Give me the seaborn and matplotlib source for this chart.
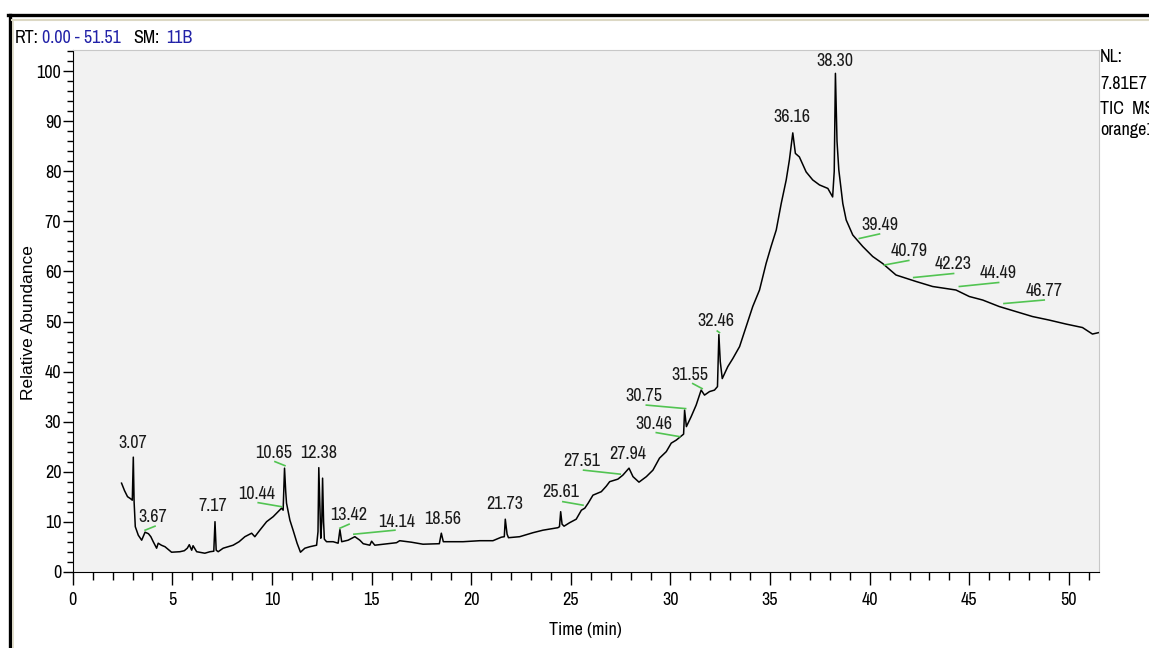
import matplotlib
matplotlib.use("Agg")
import matplotlib.pyplot as plt
from matplotlib.lines import Line2D
from matplotlib.ticker import MultipleLocator
import seaborn as sns
import pandas as pd

# TIC trace (retention time in min, relative abundance in %)
rt_min = [2.45, 2.60, 2.75, 2.90, 2.99, 3.04, 3.08, 3.14, 3.29, 3.46, 3.63, 3.80, 3.92, 4.04,
          4.21, 4.29, 4.45, 4.63, 4.96, 5.38, 5.60, 5.75, 5.85, 5.97, 6.04, 6.22, 6.63, 6.89,
          7.08, 7.14, 7.20, 7.30, 7.55, 8.05, 8.35, 8.64, 8.98, 9.14, 9.39, 9.73, 10.06, 10.31,
          10.48, 10.56, 10.63, 10.69, 10.73, 10.90, 11.06, 11.26, 11.43, 11.65, 11.90, 12.24,
          12.31, 12.35, 12.40, 12.45, 12.50, 12.54, 12.59, 12.63, 12.74, 13.07, 13.32, 13.41,
          13.50, 13.82, 14.16, 14.41, 14.58, 14.91, 15.00, 15.16, 15.58, 16.25, 16.41, 17.00,
          17.58, 18.40, 18.50, 18.60, 19.59, 20.43, 21.09, 21.51, 21.66, 21.71, 21.80, 21.87,
          22.43, 23.10, 23.60, 24.35, 24.43, 24.49, 24.56, 24.66, 24.94, 25.27, 25.53, 25.70,
          25.87, 26.11, 26.53, 26.78, 26.95, 27.36, 27.61, 27.92, 28.12, 28.42, 28.79, 29.12,
          29.45, 29.79, 30.04, 30.29, 30.54, 30.66, 30.71, 30.80, 31.04, 31.29, 31.54, 31.71,
          31.96, 32.21, 32.36, 32.43, 32.50, 32.60, 32.88, 33.13, 33.47, 33.80, 34.13, 34.47,
          34.80, 35.05, 35.31, 35.56, 35.81, 35.97, 36.14, 36.27, 36.47, 36.81, 37.14, 37.48,
          37.90, 38.14, 38.22, 38.28, 38.36, 38.45, 38.65, 38.82, 39.15, 39.65, 40.15, 40.65,
          41.32, 42.33, 43.16, 44.33, 45.00, 45.67, 46.50, 47.34, 48.17, 49.00, 49.85, 50.68,
          51.18, 51.51]
abundance = [17.7, 16.2, 15.0, 14.6, 14.3, 22.9, 14.0, 9.0, 7.3, 6.3, 7.9, 7.6, 7.0, 6.0,
             4.7, 5.7, 5.3, 5.0, 3.9, 4.0, 4.2, 4.7, 5.4, 4.3, 5.2, 4.0, 3.7, 4.0,
             4.1, 10.0, 4.3, 4.0, 4.7, 5.3, 6.0, 7.0, 7.7, 7.0, 8.3, 10.0, 11.0, 12.0,
             12.7, 12.3, 20.7, 16.0, 13.7, 10.3, 8.3, 5.7, 3.9, 4.7, 5.0, 5.3,
             8.0, 20.8, 14.0, 6.7, 10.0, 18.7, 10.0, 6.5, 6.0, 6.0, 5.7, 8.4,
             6.0, 6.3, 7.0, 6.3, 5.6, 5.3, 6.1, 5.3, 5.5, 5.8, 6.2, 5.9,
             5.5, 5.6, 7.7, 6.0, 6.0, 6.2, 6.2, 6.9, 7.0, 10.5, 7.5, 6.8,
             7.0, 7.8, 8.3, 8.8, 9.0, 12.0, 9.5, 9.1, 9.8, 10.5, 12.3, 12.7,
             13.7, 15.3, 16.0, 17.1, 18.0, 18.5, 19.3, 20.7, 19.0, 17.9, 19.0, 20.3,
             22.7, 24.0, 25.7, 26.3, 27.1, 27.5, 32.3, 29.0, 31.0, 33.3, 36.3, 35.3,
             36.0, 36.3, 37.0, 47.4, 42.0, 38.6, 41.0, 42.6, 45.0, 49.0, 53.0, 56.3,
             61.6, 65.0, 68.3, 73.6, 78.3, 82.3, 87.7, 83.6, 82.9, 79.9, 78.3, 77.3,
             76.6, 74.9, 80.0, 99.6, 86.0, 80.3, 73.6, 70.3, 67.3, 65.0, 63.0, 61.6,
             59.3, 58.0, 57.0, 56.3, 55.0, 54.3, 53.0, 52.0, 51.0, 50.3, 49.5, 48.8,
             47.5, 47.8]

# peak labels and where their text sits (t, abundance of text centre)
peak_labels = ["3.07", "3.67", "7.17", "10.44", "10.65", "12.38", "13.42", "14.14", "18.56",
               "21.73", "25.61", "27.51", "27.94", "30.46", "30.75", "31.55", "32.46", "36.16",
               "38.30", "39.49", "40.79", "42.23", "44.49", "46.77"]
label_t = [3.01, 4.03, 7.04, 9.24, 10.06, 12.35, 13.86, 16.27, 18.56, 21.68, 24.49, 25.53,
           27.86, 29.17, 28.67, 30.99, 32.26, 36.09, 38.23, 40.49, 41.96, 44.21, 46.47, 48.73]
label_v = [25.7, 10.9, 13.1, 15.5, 23.7, 23.7, 11.3, 10.0, 10.5, 13.5, 15.9, 22.1, 23.5,
           29.5, 35.1, 39.3, 50.2, 90.9, 102.1, 69.3, 64.0, 61.5, 59.6, 56.2]

# green leader lines: from the peak to the underside of its label
leader_t0 = [3.63, 9.31, 10.15, 13.41, 14.11, 24.60, 25.64, 29.29, 28.79, 31.12, 32.35,
             39.48, 40.74, 42.21, 44.50, 46.74]
leader_t1 = [4.13, 10.48, 10.65, 13.87, 16.17, 25.61, 27.48, 30.46, 30.76, 31.59, 32.46,
             40.49, 41.96, 44.21, 46.47, 48.76]
leader_v0 = [8.3, 13.8, 22.0, 8.7, 7.5, 14.0, 20.3, 27.8, 33.3, 37.6, 48.1, 66.6, 61.3,
             58.8, 57.0, 53.6]
leader_v1 = [9.1, 13.0, 21.2, 9.5, 8.3, 13.3, 19.5, 27.0, 32.6, 36.6, 47.8, 67.5, 62.2,
             59.6, 57.8, 54.3]

trace = pd.DataFrame({"Time (min)": rt_min, "Relative Abundance": abundance})

narrow = ["Archivo Narrow", "Roboto Condensed", "Liberation Sans", "DejaVu Sans"]
plt.rcParams["font.family"] = narrow
fs = 13

fig = plt.figure(figsize=(11.49, 6.48), dpi=100)
fig.patch.set_facecolor("white")
ax = fig.add_axes([0.0633, 0.1177, 0.8932, 0.8051])
ax.set_facecolor("#f2f2f2")

sns.lineplot(data=trace, x="Time (min)", y="Relative Abundance", ax=ax,
             color="black", linewidth=1.1, estimator=None, sort=False)

for t0, t1, v0, v1 in zip(leader_t0, leader_t1, leader_v0, leader_v1):
    ax.plot([t0, t1], [v0, v1], color="#52c452", linewidth=1.2)

for lab, t, v in zip(peak_labels, label_t, label_v):
    ax.text(t, v, lab, ha="center", va="center", fontsize=fs, color="#1a1a1a")

ax.set_xlim(0, 51.51)
ax.set_ylim(0, 104.26)
ax.xaxis.set_major_locator(MultipleLocator(5))
ax.xaxis.set_minor_locator(MultipleLocator(1))
ax.yaxis.set_major_locator(MultipleLocator(10))
ax.yaxis.set_minor_locator(MultipleLocator(2))
ax.tick_params(axis="x", which="major", length=9.4, width=1, pad=5, labelsize=fs, direction="out")
ax.tick_params(axis="x", which="minor", length=5.8, width=1, direction="out")
ax.tick_params(axis="y", which="major", length=7.2, width=1, pad=1, labelsize=fs, direction="out")
ax.tick_params(axis="y", which="minor", length=4.3, width=1, direction="out")
ax.set_xlabel("")
ax.set_ylabel("")
for side in ["top", "right"]:
    ax.spines[side].set_color("#c8c8c8")
for side in ["left", "bottom"]:
    ax.spines[side].set_color("black")

W, H = 1149.0, 648.0
fig.text(585 / W, 1 - 630 / H, "Time (min)", ha="center", va="center", fontsize=fs)
fig.text(29 / W, 1 - 323 / H, "Relative Abundance", ha="center", va="center",
         rotation=90, fontsize=12.5, family=["Liberation Sans", "DejaVu Sans"])

# header line
blue = "#2222a8"
fig.text(15 / W, 1 - 43 / H, "RT:", fontsize=fs, va="baseline")
fig.text(41.7 / W, 1 - 43 / H, "0.00 - 51.51", fontsize=fs, va="baseline", color=blue)
fig.text(133 / W, 1 - 43 / H, "SM:", fontsize=fs, va="baseline")
fig.text(166 / W, 1 - 43 / H, "11B", fontsize=fs, va="baseline", color=blue)

# right-hand info (cut off by the window edge in the original)
for txt, yy in [("NL:", 56.5), ("7.81E7", 84), ("TIC  MS", 108.5), ("orange1", 130)]:
    fig.text(1100 / W, 1 - yy / H, txt, fontsize=fs, va="center")

# window frame
fig.add_artist(Line2D([8 / W, 1], [1 - 14.5 / H, 1 - 14.5 / H], color="black", linewidth=2.4))
fig.add_artist(Line2D([9.5 / W, 9.5 / W], [0, 1 - 14.5 / H], color="black", linewidth=2.4))
fig.add_artist(Line2D([12 / W, 1], [1 - 19.5 / H, 1 - 19.5 / H], color="#dcd8c4", linewidth=1.5))
fig.add_artist(Line2D([12.5 / W, 12.5 / W], [0, 1 - 19.5 / H], color="#dcd8c4", linewidth=1.2))

fig.savefig("out.png", dpi=100)
